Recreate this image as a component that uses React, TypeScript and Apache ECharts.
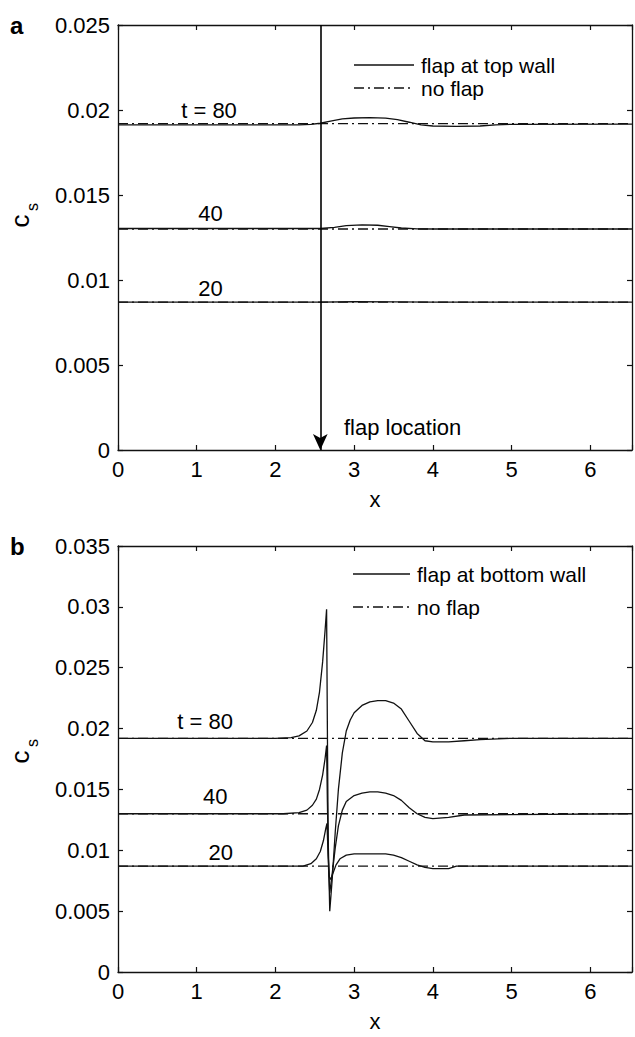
import React, { useEffect, useRef } from "react";
import * as echarts from "echarts";

// ---------- data ----------
const X_MAX = 6.53;
const Y_MAX_A = 0.025;
const Y_MAX_B = 0.035;

// no-flap baselines (same in both panels)
const noFlapX = [0, 6.53];
const noFlap80 = [0.0192, 0.0192];
const noFlap40 = [0.013, 0.013];
const noFlap20 = [0.0087, 0.0087];

// panel a: flap at top wall
const topT80X = [0, 2.3, 2.45, 2.57, 2.7, 2.85, 3.0, 3.2, 3.4, 3.55, 3.7, 3.85, 4.0, 4.3, 4.6, 4.8, 5.0, 6.53];
const topT80Y = [0.01912, 0.01912, 0.01915, 0.01922, 0.01935, 0.01948, 0.01953, 0.01955, 0.01952, 0.01943, 0.01928, 0.01912, 0.01906, 0.01904, 0.01906, 0.01912, 0.01916, 0.01917];
const topT40X = [0, 2.57, 2.75, 2.9, 3.1, 3.3, 3.45, 3.6, 3.8, 4.0, 6.53];
const topT40Y = [0.01303, 0.01303, 0.0131, 0.0132, 0.01324, 0.01322, 0.01314, 0.01306, 0.01301, 0.013, 0.013];
const topT20X = [0, 2.57, 3.0, 3.5, 4.0, 6.53];
const topT20Y = [0.0087, 0.0087, 0.00872, 0.00871, 0.0087, 0.0087];

// panel b: flap at bottom wall
const botT80X = [0, 2.0, 2.2, 2.3, 2.4, 2.47, 2.52, 2.56, 2.6, 2.63, 2.65, 2.66, 2.67, 2.69, 2.72, 2.76, 2.8, 2.85, 2.9, 2.95, 3.0, 3.1, 3.2, 3.3, 3.4, 3.5, 3.6, 3.7, 3.8, 3.9, 4.0, 4.2, 4.4, 4.6, 5.0, 6.53];
const botT80Y = [0.0192, 0.0192, 0.01925, 0.0194, 0.0198, 0.0205, 0.0215, 0.023, 0.0255, 0.028, 0.0298, 0.02, 0.011, 0.005, 0.0075, 0.0115, 0.015, 0.018, 0.0198, 0.0207, 0.0213, 0.0219, 0.0222, 0.0223, 0.0223, 0.0221, 0.0216, 0.0206, 0.0196, 0.019, 0.0189, 0.0189, 0.019, 0.0191, 0.0192, 0.0192];
const botT40X = [0, 2.1, 2.3, 2.4, 2.47, 2.52, 2.56, 2.6, 2.63, 2.65, 2.66, 2.675, 2.69, 2.72, 2.76, 2.8, 2.85, 2.9, 3.0, 3.1, 3.2, 3.3, 3.4, 3.5, 3.6, 3.7, 3.8, 3.9, 4.0, 4.2, 4.4, 6.53];
const botT40Y = [0.013, 0.013, 0.0131, 0.0133, 0.0137, 0.0142, 0.015, 0.0162, 0.0175, 0.0186, 0.014, 0.0085, 0.0065, 0.008, 0.0102, 0.012, 0.0133, 0.014, 0.0145, 0.0147, 0.0148, 0.0148, 0.0147, 0.0145, 0.0141, 0.0135, 0.013, 0.0127, 0.0126, 0.0127, 0.0129, 0.013];
const botT20X = [0, 2.35, 2.45, 2.52, 2.57, 2.61, 2.64, 2.655, 2.67, 2.685, 2.7, 2.73, 2.77, 2.82, 2.9, 3.0, 3.2, 3.4, 3.5, 3.6, 3.7, 3.8, 3.9, 4.0, 4.2, 4.3, 6.53];
const botT20Y = [0.0087, 0.0087, 0.0089, 0.0093, 0.0099, 0.0108, 0.0118, 0.0122, 0.0095, 0.0078, 0.0076, 0.0081, 0.0088, 0.0093, 0.0096, 0.0097, 0.0097, 0.0097, 0.0096, 0.0094, 0.0091, 0.0088, 0.0086, 0.0085, 0.0085, 0.0087, 0.0087];

// curve labels
const curveLabels = ["t = 80", "40", "20"];
const labelXA = [1.51, 1.33, 1.33];
const labelYA = [0.02, 0.0139, 0.0095];
const labelXB = [1.46, 1.39, 1.46];
const labelYB = [0.0206, 0.0144, 0.0098];

const FLAP_X = 2.57;
const flapTextPos = [2.87, 0.0013];

const legendA = ["flap at top wall", "no flap"];
const legendB = ["flap at bottom wall", "no flap"];

// ---------- styling ----------
const FONT = "'Liberation Sans', Arial, Helvetica, sans-serif";
const FS = 22;
const DASHDOT = [10, 4, 2, 4];
const BLACK = "#111";

const zip = (xs: number[], ys: number[]) => xs.map((x, i) => [x, ys[i]]);

const fmtY = (v: number) => String(+v.toFixed(4));
const fmtX = (v: number) => (Math.abs(v - Math.round(v)) < 1e-9 ? String(Math.round(v)) : "");

function makeXAxes(gridIndex: number) {
  const common = {
    gridIndex,
    type: "value",
    min: 0,
    max: X_MAX,
    interval: 1,
    splitLine: { show: false },
    axisLine: { show: true, onZero: false, lineStyle: { color: BLACK, width: 1.3 } },
    axisTick: { show: true, inside: true, length: 5, lineStyle: { color: BLACK, width: 1.2 } },
  };
  return [
    {
      ...common,
      position: "bottom",
      axisLabel: { show: true, color: "#000", fontSize: FS, fontFamily: FONT, margin: 8, formatter: fmtX },
      name: "x",
      nameLocation: "middle",
      nameGap: 38,
      nameTextStyle: { color: "#000", fontSize: FS, fontFamily: FONT },
    },
    { ...common, position: "top", axisLabel: { show: false } },
  ];
}

function makeYAxes(gridIndex: number, max: number) {
  const common = {
    gridIndex,
    type: "value",
    min: 0,
    max,
    interval: 0.005,
    splitLine: { show: false },
    axisLine: { show: true, onZero: false, lineStyle: { color: BLACK, width: 1.3 } },
    axisTick: { show: true, inside: true, length: 5, lineStyle: { color: BLACK, width: 1.2 } },
  };
  return [
    {
      ...common,
      position: "left",
      axisLabel: { show: true, color: "#000", fontSize: FS, fontFamily: FONT, margin: 8, formatter: fmtY },
    },
    { ...common, position: "right", axisLabel: { show: false } },
  ];
}

function lineSeries(name: string, panel: number, xs: number[], ys: number[], dashed: boolean, extra: any = {}) {
  return {
    name,
    type: "line",
    xAxisIndex: panel * 2,
    yAxisIndex: panel * 2,
    data: zip(xs, ys),
    symbol: "none",
    smooth: false,
    lineStyle: { color: BLACK, width: 1.3, type: dashed ? DASHDOT : "solid" },
    z: dashed ? 3 : 2,
    ...extra,
  };
}

export default function App() {
  const ref = useRef<HTMLDivElement>(null);
  useEffect(() => {
    if (!ref.current) return;
    const chart = echarts.init(ref.current, null, { renderer: "svg" });
    const option: any = {
      animation: false,
      backgroundColor: "#fff",
      grid: [
        { left: 118, top: 25, width: 519, height: 425 },
        { left: 118, top: 546, width: 519, height: 426 },
      ],
      xAxis: [...makeXAxes(0), ...makeXAxes(1)],
      yAxis: [...makeYAxes(0, Y_MAX_A), ...makeYAxes(1, Y_MAX_B)],
      series: [
        lineSeries("no flap", 0, noFlapX, noFlap80, true),
        lineSeries("no flap", 0, noFlapX, noFlap40, true),
        lineSeries("no flap", 0, noFlapX, noFlap20, true),
        lineSeries("flap at top wall", 0, topT80X, topT80Y, false),
        lineSeries("flap at top wall", 0, topT40X, topT40Y, false),
        lineSeries("flap at top wall", 0, topT20X, topT20Y, false, {
          markLine: {
            silent: true,
            symbolSize: [11, 16],
            label: { show: false },
            lineStyle: { color: "#000", width: 1.6, type: "solid" },
            data: [
              [
                { coord: [FLAP_X, Y_MAX_A], symbol: "none" },
                { coord: [FLAP_X, 0], symbol: "arrow" },
              ],
            ],
          },
        }),
        lineSeries("no flap", 1, noFlapX, noFlap80, true),
        lineSeries("no flap", 1, noFlapX, noFlap40, true),
        lineSeries("no flap", 1, noFlapX, noFlap20, true),
        lineSeries("flap at bottom wall", 1, botT80X, botT80Y, false),
        lineSeries("flap at bottom wall", 1, botT40X, botT40Y, false),
        lineSeries("flap at bottom wall", 1, botT20X, botT20Y, false),
      ],
    };
    chart.setOption(option);

    const toPx = (panel: number, x: number, y: number) =>
      chart.convertToPixel({ xAxisIndex: panel * 2, yAxisIndex: panel * 2 } as any, [x, y]) as number[];

    const txt = (x: number, y: number, text: string, opts: any = {}) => ({
      type: "text",
      x,
      y,
      silent: true,
      style: {
        text,
        fill: "#000",
        font: `${opts.weight || "normal"} ${opts.size || FS}px ${FONT}`,
        align: opts.align || "left",
        verticalAlign: opts.va || "middle",
      },
    });

    const graphics: any[] = [];
    // curve labels
    curveLabels.forEach((t, i) => {
      const pa = toPx(0, labelXA[i], labelYA[i]);
      graphics.push(txt(pa[0], pa[1], t, { align: "right" }));
      const pb = toPx(1, labelXB[i], labelYB[i]);
      graphics.push(txt(pb[0], pb[1], t, { align: "right" }));
    });
    // flap location
    const pf = toPx(0, flapTextPos[0], flapTextPos[1]);
    graphics.push(txt(pf[0], pf[1], "flap location"));

    // legends
    const legendRows = (labels: string[], x0: number, x1: number, ys: number[]) => {
      labels.forEach((lab, i) => {
        graphics.push({
          type: "line",
          silent: true,
          shape: { x1: x0, y1: ys[i], x2: x1, y2: ys[i] },
          style: { stroke: BLACK, lineWidth: 1.3, lineDash: i === 0 ? null : DASHDOT },
        });
        graphics.push(txt(x1 + 7, ys[i], lab, { size: 21 }));
      });
    };
    legendRows(legendA, 354, 414, [65, 88]);
    legendRows(legendB, 353, 410, [574, 607]);

    // panel letters
    graphics.push(txt(10, 25, "a", { weight: "bold", size: 24 }));
    graphics.push(txt(10, 546, "b", { weight: "bold", size: 24 }));

    // y axis titles c_s (rotated)
    const ylab = (cx: number, cy: number) => ({
      type: "group",
      x: cx,
      y: cy,
      rotation: Math.PI / 2,
      silent: true,
      children: [
        {
          type: "text",
          x: 0,
          y: 0,
          style: { text: "c", fill: "#000", font: `normal 26px ${FONT}`, align: "center", verticalAlign: "middle" },
        },
        {
          type: "text",
          x: 10,
          y: 12,
          style: { text: "s", fill: "#000", font: `normal 16px ${FONT}`, align: "left", verticalAlign: "middle" },
        },
      ],
    });
    graphics.push(ylab(20, 221));
    graphics.push(ylab(20, 757));

    chart.setOption({ graphic: graphics });

    return () => chart.dispose();
  }, []);

  return (
    <div
      ref={ref}
      style={{ position: "absolute", left: 0, top: 0, width: 635, height: 1037, background: "#fff" }}
    />
  );
}
